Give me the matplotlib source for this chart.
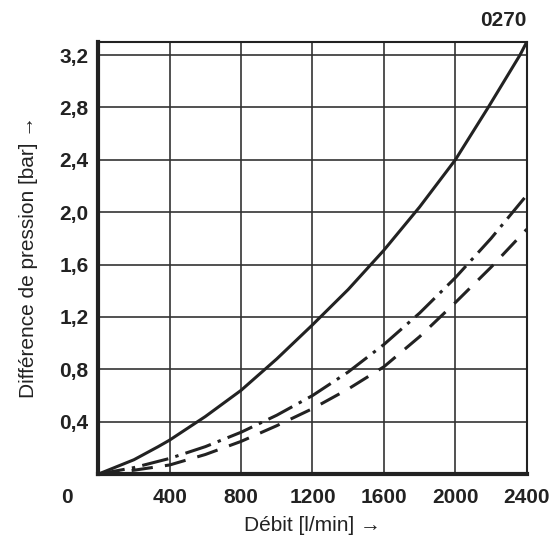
import matplotlib
matplotlib.use("Agg")
import matplotlib.pyplot as plt

# flow in l/min, pressure difference in bar
flow_solid = [0, 200, 336, 400, 600, 800, 1000, 1200, 1400, 1600, 1800, 2000, 2184, 2362, 2400]
dp_solid = [0, 0.11, 0.21, 0.26, 0.44, 0.64, 0.88, 1.14, 1.41, 1.71, 2.04, 2.40, 2.80, 3.20, 3.30]

flow_dashdot = [0, 200, 400, 600, 800, 1000, 1200, 1400, 1600, 1800, 2000, 2200, 2400]
dp_dashdot = [0, 0.05, 0.12, 0.21, 0.32, 0.45, 0.60, 0.78, 0.99, 1.23, 1.50, 1.80, 2.13]

flow_dashed = [0, 200, 400, 600, 800, 1000, 1200, 1400, 1600, 1800, 2000, 2200, 2400]
dp_dashed = [0, 0.03, 0.07, 0.15, 0.25, 0.37, 0.50, 0.65, 0.82, 1.05, 1.31, 1.58, 1.87]

x_ticks = [400, 800, 1200, 1600, 2000, 2400]
y_ticks = [0.4, 0.8, 1.2, 1.6, 2.0, 2.4, 2.8, 3.2]

font = ["Liberation Sans", "DejaVu Sans"]
ink = "#222222"

fig = plt.figure(figsize=(5.58, 5.45), dpi=100)
ax = fig.add_axes([0.176, 0.130, 0.768, 0.793])

ax.plot(flow_solid, dp_solid, color=ink, lw=2.2, solid_capstyle="butt")
ax.plot(flow_dashdot, dp_dashdot, color=ink, lw=2.2,
        dashes=(8.8, 2.4, 1.1, 2.4), dash_capstyle="butt")
ax.plot(flow_dashed, dp_dashed, color=ink, lw=2.2,
        dashes=(7, 4), dash_capstyle="butt")

ax.set_xlim(0, 2400)
ax.set_ylim(0, 3.3)
ax.set_xticks(x_ticks)
ax.set_yticks(y_ticks)
ax.set_xticklabels([str(v) for v in x_ticks], fontfamily=font,
                   fontweight="bold", fontsize=15)
ax.set_yticklabels([f"{v:.1f}".replace(".", ",") for v in y_ticks],
                   fontfamily=font, fontweight="bold", fontsize=15)
ax.tick_params(length=0, colors=ink)
ax.tick_params(axis="y", pad=7)
ax.tick_params(axis="x", pad=10)

ax.grid(True, color="#333333", lw=1.2)
ax.set_axisbelow(True)

for side in ["left", "bottom"]:
    ax.spines[side].set_linewidth(3)
    ax.spines[side].set_color(ink)
for side in ["top", "right"]:
    ax.spines[side].set_linewidth(1.5)
    ax.spines[side].set_color(ink)

# origin label sits left of the axis
ax.text(-175, -0.175, "0", fontfamily=font, fontweight="bold",
        fontsize=15, color=ink, ha="center", va="center")

ax.set_xlabel("Débit [l/min] →", fontfamily=font, fontsize=15,
              color=ink, va="center")
ax.xaxis.set_label_coords(0.5, -0.118)
ax.set_ylabel("Différence de pression [bar] →", fontfamily=font,
              fontsize=15, color=ink, va="center")
ax.yaxis.set_label_coords(-0.162, 0.502)

fig.text(0.944, 0.963, "0270", fontfamily=font,
         fontweight="bold", fontsize=15, ha="right", va="center", color=ink)

plt.savefig("out.png", dpi=100)
